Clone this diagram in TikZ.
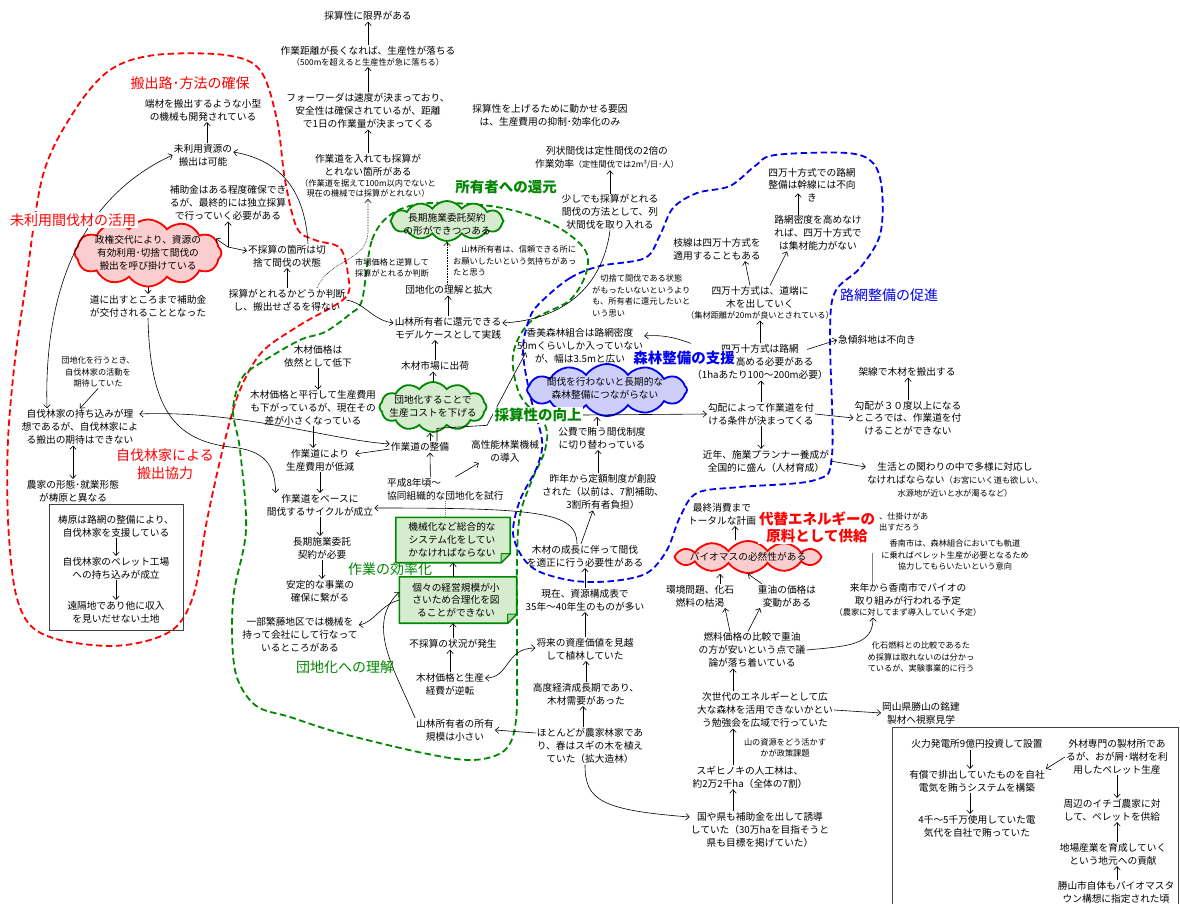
\documentclass[tikz,border=0pt]{standalone}
\usepackage{fontspec}
\setmainfont{Noto Sans CJK JP}
\usetikzlibrary{arrows.meta,shapes.symbols,calc}

\definecolor{ZoneRed}{RGB}{255,0,0}
\definecolor{ZoneGreen}{RGB}{0,135,0}
\definecolor{ZoneBlue}{RGB}{0,0,240}
\definecolor{PuffPink}{RGB}{250,206,206}
\definecolor{PuffGreen}{RGB}{214,236,206}
\definecolor{PuffBlue}{RGB}{206,206,250}
\definecolor{FoldGreen}{RGB}{170,215,160}

\newcommand{\smf}{\fontsize{8.2}{10.5}\selectfont}
\newcommand{\foldbox}[1]{%
  \filldraw[fill=PuffGreen,draw=ZoneGreen,line width=1.6pt,line join=round]
    (#1.north west) -- (#1.north east) -- ([yshift=9pt]#1.south east)
    -- ([xshift=-9pt]#1.south east) -- (#1.south west) -- cycle;
  \filldraw[fill=FoldGreen,draw=ZoneGreen,line width=1pt,line join=round]
    ([yshift=9pt]#1.south east) -- ([xshift=-9pt]#1.south east)
    -- ([xshift=-9pt,yshift=9pt]#1.south east) -- cycle;}

\tikzset{
  txt/.style={align=center,inner sep=1pt,font=\fontsize{9.7}{12.8}\selectfont},
  sml/.style={align=center,inner sep=1pt,font=\fontsize{8.2}{11.5}\selectfont},
  lbl/.style={align=center,inner sep=1.5pt,font=\fontsize{14}{18}\selectfont},
  lblb/.style={align=center,inner sep=1.5pt,font=\fontsize{14.5}{17}\selectfont\bfseries},
  con/.style={->,line width=.6pt},
  zone/.style={line width=1.8pt,dash pattern=on 6.5pt off 3.5pt},
  puff/.style={cloud,cloud puffs=12,cloud puff arc=110,cloud ignores aspect,line width=1.8pt,inner sep=0pt},
  slot/.style={rectangle,inner sep=0pt},
  boxline/.style={draw=black!75,line width=.8pt},
  >={Straight Barb[length=3.5pt,width=6.5pt]}
}

\begin{document}
\begin{tikzpicture}[x=1pt,y=-1pt]
\useasboundingbox[fill=white] (0,0) rectangle (1180,904);

% zones
\draw[zone,ZoneRed] plot[smooth cycle,tension=.55] coordinates {(285,180) (297,228) (315,240) (340,248) (348,275) (345,298) (300,325) (262,352) (240,390) (225,440) (207,520) (195,590) (178,625) (150,640) (110,646) (60,640) (30,625) (15,590) (8,520) (8,440) (15,360) (25,290) (43,175) (75,110) (110,70) (155,55) (225,55) (260,70) (277,120)};
\draw[zone,ZoneGreen] plot[smooth cycle,tension=.55] coordinates {(362,300) (372,240) (393,213) (430,203) (497,207) (550,223) (583,247) (587,270) (570,300) (530,322) (513,355) (520,395) (545,425) (545,450) (532,480) (520,515) (517,560) (517,650) (516,720) (505,750) (473,760) (423,753) (340,733) (290,717) (255,705) (235,670) (233,600) (246,530) (240,450) (233,410) (242,378) (262,362) (300,340) (325,332) (350,314)};
\draw[zone,ZoneBlue] plot[smooth cycle,tension=.55] coordinates {(543,300) (570,278) (600,266) (645,258) (660,235) (673,208) (697,193) (730,186) (755,166) (775,155) (847,153) (873,163) (882,190) (880,235) (860,268) (835,292) (830,335) (832,455) (815,480) (740,487) (697,493) (680,517) (667,550) (647,573) (613,581) (575,581) (540,572) (523,558) (513,533) (520,500) (537,467) (542,440) (530,395) (523,350) (530,317)};

% top column
\node[txt] (gen) at (368,16) {採算性に限界がある};
\node[txt] (mgn) at (368,56) {作業距離が長くなれば、生産性が落ちる\\[-2pt]{\smf （500mを超えると生産性が急に落ちる）}};
\node[txt] (fwd) at (368,111) {フォーワーダは速度が決まっており、\\安全性は確保されているが、距離\\で1日の作業量が決まってくる};
\node[txt] (sag) at (368,176) {作業道を入れても採算が\\とれない箇所がある\\[-2pt]{\smf （作業道を据えて100m以内でないと}\\[-2pt]{\smf 現在の機械では採算がとれない）}};
\node[txt] (ymt) at (550,115) {採算性を上げるために動かせる要因\\は、生産費用の抑制･効率化のみ};
\node[txt] (rej) at (607,158) {列状間伐は定性間伐の2倍の\\作業効率{\smf （定性間伐では2m³/日･人）}};
\node[txt] (suk) at (610,212) {少しでも採算がとれる\\間伐の方法として、列\\状間伐を取り入れる};
\node[sml,anchor=west,align=left] (kir) at (591,296) {　切捨て間伐である状態\\がもったいないというより\\も、所有者に還元したいと\\いう思い};

% unused timber
\node[txt] (hat) at (203,110) {端材を搬出するような小型\\の機械も開発されている};
\node[txt] (mir) at (203,155) {未利用資源の\\搬出は可能};
\node[txt] (hoj) at (228,203) {補助金はある程度確保でき\\るが、最終的には独立採算\\で行っていく必要がある};
\node[puff,draw=ZoneRed,fill=PuffPink,minimum width=147pt,minimum height=67pt] (seiC) at (148,253) {};
\node[txt] (sei) at (148,253) {政権交代により、資源の\\有効利用･切捨て間伐の\\搬出を呼び掛けている};
\node[txt] (fus) at (287,256) {不採算の箇所は切\\捨て間伐の状態};
\node[txt] (hand) at (287,300) {採算がとれるかどうか判断\\し、搬出せざるを得ない};
\node[sml] (mkb) at (392,268) {市場価格と逆算して\\採算がとれるか判断};
\node[txt] (mic) at (148,306) {道に出すところまで補助金\\が交付されることとなった};
\node[sml] (dan) at (98,372) {団地化を行うとき、\\自伐林家の活動を\\期待していた};
\node[txt] (jih) at (80,427) {自伐林家の持ち込みが理\\想であるが、自伐林家によ\\る搬出の期待はできない};
\node[txt] (nok) at (73,491) {農家の形態･就業形態\\が梼原と異なる};
\node[boxline,minimum width=134pt,minimum height=126pt] (ybox) at (116,567) {};
\node[txt] (yus1) at (116,526) {梼原は路網の整備により、\\自伐林家を支援している};
\node[txt] (jip) at (116,568) {自伐林家のペレット工場\\への持ち込みが成立};
\node[txt] (enk) at (116,612) {遠隔地であり他に収入\\を見いだせない土地};

% working column
\node[txt] (mkp) at (318,356) {木材価格は\\依然として低下};
\node[txt] (mkh) at (313,408) {木材価格と平行して生産費用\\も下がっているが、現在その\\差が小さくなっている};
\node[txt] (sgy) at (320,460) {作業道により\\生産費用が低減};
\node[txt] (bas) at (320,505) {作業道をベースに\\間伐するサイクルが成立};
\node[txt] (cho) at (322,548) {長期施業委託\\契約が必要};
\node[txt] (ant) at (320,591) {安定的な事業の\\確保に繋がる};
\node[txt] (ich) at (300,635) {一部繁藤地区では機械を\\持って会社にして行なって\\いるところがある};

% owners
\node[puff,draw=ZoneGreen,fill=PuffGreen,minimum width=113pt,minimum height=40pt] (choC) at (447,221) {};
\node[txt] (chok) at (447,224) {長期施業委託契約\\の形ができつつある};
\node[sml,anchor=west,align=left] (yam) at (452,261) {　山林所有者は、信頼できる所に\\お願いしたいという気持ちがあっ\\たと思う};
\node[txt] (dri) at (449,290) {団地化の理解と拡大};
\node[txt] (sre) at (448,328) {山林所有者に還元できる\\モデルケースとして実践};
\node[txt] (mks) at (435,366) {木材市場に出荷};
\node[puff,draw=ZoneGreen,fill=PuffGreen,minimum width=107pt,minimum height=50pt] (danC) at (433,407) {};
\node[txt] (dank) at (433,406) {団地化することで\\生産コストを下げる};
\node[txt] (sgs) at (420,447) {作業道の整備};
\node[txt] (kos) at (505,451) {高性能林業機械\\の導入};
\node[txt,anchor=west,align=left] (hei) at (386,489) {平成8年頃〜\\協同組織的な団地化を試行};
\node[slot,minimum width=114pt,minimum height=45pt] (kik) at (453,540) {};
\foldbox{kik}
\node[txt] (kikt) at (452,540) {機械化など総合的な\\システム化をしてい\\かなければならない};
\node[slot,minimum width=117pt,minimum height=46pt] (koko) at (458,600) {};
\foldbox{koko}
\node[txt] (kokot) at (456,600) {個々の経営規模が小\\さいため合理化を図\\ることができない};
\node[txt] (fjo) at (453,644) {不採算の状況が発生};
\node[txt] (mkt) at (450,684) {木材価格と生産\\経費が逆転};
\node[txt] (sks) at (455,730) {山林所有者の所有\\規模は小さい};

% forest support
\node[txt] (kam) at (580,346) {香美森林組合は路網密度\\50mくらいしか入っていない\\が、幅は3.5mと広い};
\node[puff,draw=ZoneBlue,fill=PuffBlue,minimum width=160pt,minimum height=52pt] (kanC) at (607,390) {};
\node[txt] (kank) at (605,388) {間伐を行わないと長期的な\\森林整備につながらない};
\node[txt] (kohi) at (602,438) {公費で賄う間伐制度\\に切り替わっている};
\node[txt] (sak) at (603,492) {昨年から定額制度が創設\\された（以前は、7割補助、\\3割所有者負担）};
\node[txt] (mse) at (585,556) {木材の成長に伴って間伐\\を適正に行う必要性がある};
\node[txt] (gen2) at (585,600) {現在、資源構成表で\\35年〜40年生のものが多い};
\node[txt] (sho) at (585,649) {将来の資産価値を見越\\して植林していた};
\node[txt] (kod) at (586,694) {高度経済成長期であり、\\木材需要があった};
\node[txt] (hot) at (590,746) {ほとんどが農家林家であ\\り、春はスギの木を植え\\ていた（拡大造林）};

% road network
\node[txt] (shk) at (812,185) {四万十方式での路網\\整備は幹線には不向\\き};
\node[txt] (rmd) at (818,233) {路網密度を高めなけ\\れば、四万十方式で\\は集材能力がない};
\node[txt] (eda) at (717,249) {枝線は四万十方式を\\適用することもある};
\node[txt] (shd) at (760,303) {四万十方式は、道端に\\木を出していく\\[-2pt]{\smf （集材距離が20mが良いとされている）}};
\node[txt] (shr) at (760,362) {四万十方式は路網\\密度を高める必要がある\\（1haあたり100〜200m必要）};
\node[txt] (kob) at (761,414) {勾配によって作業道を付\\ける条件が決まってくる};
\node[txt] (kin) at (766,461) {近年、施業プランナー養成が\\全国的に盛ん（人材育成）};
\node[txt] (kyu) at (877,340) {急傾斜地は不向き};
\node[txt] (kas) at (907,372) {架線で木材を搬出する};
\node[txt] (k30) at (908,418) {勾配が３０度以上になる\\ところでは、作業道を付\\けることができない};
\node[txt] (sei2) at (955,480) {生活との関わりの中で多様に対応し\\なければならない{\smf （お宮にいく道も欲しい、}\\{\smf 水源地が近いと水が濁るなど）}};

% energy
\node[txt] (sai) at (722,514) {最終消費まで\\トータルな計画};
\node[sml,anchor=west,align=left] (shi) at (878,522) {、仕掛けがあ\\出すだろう};
\node[puff,draw=ZoneRed,fill=PuffPink,minimum width=147pt,minimum height=32pt] (bioC) at (748,557) {};
\node[txt] (bio) at (748,557) {バイオマスの必然性がある};
\node[txt] (kan) at (700,596) {環境問題、化石\\燃料の枯渇};
\node[txt] (juy) at (787,596) {重油の価格は\\変動がある};
\node[txt] (nen) at (752,650) {燃料価格の比較で重油\\の方が安いという点で議\\論が落ち着いている};
\node[sml] (kon) at (955,555) {香南市は、森林組合においても軌道\\に乗ればペレット生産が必要となるため\\協力してもらいたいという意向};
\node[txt] (rai) at (908,600) {来年から香南市でバイオの\\取り組みが行われる予定\\[-2pt]{\smf （農家に対してまず導入していく予定）}};
\node[sml] (kas2) at (921,657) {化石燃料との比較であるた\\め採算は取れないのは分かっ\\ているが、実験事業的に行う};
\node[txt] (jis) at (765,710) {次世代のエネルギーとして広\\大な森林を活用できないかとい\\う勉強会を広域で行っていた};
\node[txt] (oka) at (921,713) {岡山県勝山の銘建\\製材へ視察見学};
\node[sml] (yms) at (785,748) {山の資源をどう活かす\\かが政策課題};
\node[txt] (sug) at (750,777) {スギヒノキの人工林は、\\約2万2千ha（全体の7割）};
\node[txt] (kun) at (760,830) {国や県も補助金を出して誘導\\していた（30万haを目指そうと\\県も目標を掲げていた）};

% visit box
\node[boxline,minimum width=286pt,minimum height=190pt] (kbox) at (1035,822) {};
\node[txt] (kar) at (977,744) {火力発電所9億円投資して設置};
\node[txt] (yus) at (977,781) {有償で排出していたものを自社\\電気を賄うシステムを構築};
\node[txt] (yon) at (977,826) {4千〜5千万使用していた電\\気代を自社で賄っていた};
\node[txt] (gaz) at (1117,757) {外材専門の製材所であ\\るが、おが屑･端材を利\\用したペレット生産};
\node[txt] (shu) at (1112,810) {周辺のイチゴ農家に対\\して、ペレットを供給};
\node[txt] (jib) at (1113,854) {地場産業を育成していく\\という地元への貢献};
\node[txt] (kat) at (1116,892) {勝山市自体もバイオマスタ\\ウン構想に指定された頃};

% connectors
\draw[con] (mgn.north) -- (mgn.north |- gen.south);
\draw[con] (fwd.north) -- (fwd.north |- mgn.south);
\draw[con] (sag.north) -- (sag.north |- fwd.south);
\draw[con,densely dotted] ([xshift=30pt]hand.north) .. controls (330,258) and (368,262) .. ([yshift=-32pt]sag.south) -- (sag.south);

\draw[con] ([xshift=4pt]mir.north) -- ([xshift=4pt]mir.north |- hat.south);
\draw[con,<->] ([xshift=-33pt]jih.north) .. controls (44,300) and (75,200) .. (mir.west);
\coordinate (fork) at (228,247);
\draw[con] (fork) -- (fork |- hoj.south);
\draw[con] (fork) -- (seiC.12);
\draw[con] (fork) -- ([yshift=5pt]fus.west);
\draw[con] (seiC.south) -- (seiC.south |- mic.north);
\draw[con] ([xshift=21pt]fus.north) .. controls (305,190) and (280,160) .. ([yshift=3pt]mir.east);
\draw[con] (hand.north) -- (hand.north |- fus.south);
\draw[con] (hand.east) .. controls (365,303) and (372,320) .. ([yshift=5pt]sre.west);
\draw[con] (mic.south) .. controls (150,410) and (175,440) .. (230,447) .. controls (265,450) and (275,465) .. ([xshift=10pt]bas.north west);
\draw[con] (dan.south) -- (jih.north);
\draw[con,<->] ([xshift=-7pt]jih.south) -- ([xshift=-7pt]jih.south |- nok.north);
\draw[con,<->] ([yshift=13pt]jih.east) .. controls (240,410) and (330,440) .. ([yshift=3pt]sgs.west);
\draw[con] ([yshift=-2pt]sgs.west) -- ([yshift=6pt]sgy.east);
\draw[con] (yus1.south) -- (yus1.south |- jip.north);
\draw[con] (jip.south) -- (jip.south |- enk.north);

\draw[con] (mkp.south) -- (mkp.south |- mkh.north);
\draw[con] (mkh.south) -- (mkh.south |- sgy.north);
\draw[con] (sgy.south) -- (sgy.south |- bas.north);
\draw[con] (bas.south) -- (bas.south |- cho.north);
\draw[con] (cho.south) -- (cho.south |- ant.north);

\draw[con,densely dotted] ([xshift=-2pt]dri.north) -- ([xshift=-2pt]dri.north |- choC.south);
\draw[con] (sre.north) -- (sre.north |- dri.south);
\draw[con] (mks.north) -- (mks.north |- sre.south);
\draw[con] (danC.north) -- (danC.north |- mks.south);
\draw[con] ([xshift=10pt]sgs.north) -- ([xshift=10pt]sgs.north |- danC.south);
\draw[con] ([xshift=17pt]sgs.north) -- ++(0pt,13pt) -- ++(50pt,3pt) -- ([xshift=10pt,yshift=12pt]kam.south west);
\draw[con] (suk.south) .. controls (602,290) and (560,320) .. ([yshift=5pt]sre.east);
\draw[con] (suk.north) -- (suk.north |- rej.south);
\draw[con] ([xshift=-15pt]hei.north) -- ([xshift=10pt]sgs.south);
\draw[con] ([xshift=10pt]hei.north) -- ([xshift=9pt]kos.south west);
\draw[densely dotted,gray,line width=.8pt] (hei.south) -- (hei.south |- kik.north);
\draw[con] ([xshift=-8pt]mse.north) .. controls (577,512) and (540,508) .. ([yshift=-3pt]bas.east);
\draw[con] ([xshift=-5pt]koko.north) -- ([xshift=-5pt]koko.north |- kik.south);
\draw[con] (fjo.north) -- (fjo.north |- koko.south);
\draw[con] (mkt.north) -- (mkt.north |- fjo.south);
\draw[con,<->] ([yshift=6pt]mkt.east) .. controls (510,678) and (505,648) .. ([yshift=1pt]sho.west);
\draw[con] (koko.west) .. controls (380,605) and (375,622) .. ([yshift=10pt]ich.east);
\draw[con] (sks.north west) .. controls (395,670) and (365,625) .. ([yshift=8pt]koko.west);
\draw[con] ([yshift=13pt]hot.west) -- (sks.east);

\draw[con] ([xshift=-5pt]kohi.north) -- ([xshift=-5pt]kohi.north |- kanC.south);
\draw[con] ([xshift=-5pt]sak.north) -- ([xshift=-5pt]sak.north |- kohi.south);
\draw[con] ([xshift=-4pt]mse.north) -- ([xshift=-10pt]sak.south);
\draw[con] (gen2.north) -- (gen2.north |- mse.south);
\draw[con] (sho.north) -- (sho.north |- gen2.south);
\draw[con] (kod.north) -- (kod.north |- sho.south);
\draw[con] ([xshift=-7pt]hot.north) -- ([xshift=-7pt]hot.north |- kod.south);
\draw[con] ([xshift=-5pt]hot.south) .. controls (585,800) and (600,810) .. ([yshift=13pt]kun.west);

\draw[con] (shr.north) -- (shr.north |- shd.south);
\draw[con] (kob.north) -- (kob.north |- shr.south);
\draw[con] (shr.north west) .. controls (682,340) and (665,334) .. ([yshift=10pt]kam.east);
\draw[con] ([xshift=47pt,yshift=-6pt]shr.north) -- (kyu.west);
\draw[con] ([xshift=-10pt]shd.north) -- ([xshift=28pt]eda.south);
\draw[con] ([xshift=10pt]shd.north) -- ([xshift=-31pt]rmd.south);
\draw[con] ([xshift=-20pt]rmd.north) -- ([xshift=-14pt,yshift=10pt]shk.south);
\draw[con] (kob.east) -- (k30.west);
\draw[con] (k30.north) -- (k30.north |- kas.south);
\draw[con] (kob.south) -- (kob.south |- kin.north);
\draw[con] (kin.east) -- ([yshift=13pt]sei2.west);

\draw[con] ([xshift=-13pt]bioC.north) -- ([xshift=-13pt]bioC.north |- sai.south);
\draw[con] ([xshift=20pt]kan.north) -- ([xshift=20pt]kan.north |- bioC.south);
\draw[con] ([xshift=-25pt]juy.north) -- (bioC.south);
\draw[con] ([xshift=-22pt]nen.north) -- ([xshift=25pt]kan.south);
\draw[con] ([xshift=-4pt]nen.north) -- ([xshift=-27pt]juy.south);
\draw[con] (nen.east) .. controls (850,646) and (873,645) .. ([xshift=-35pt]rai.south);
\draw[gray,line width=.6pt] ([xshift=-36pt]rai.north) -- ++(0pt,30pt);
\draw[con] ([xshift=-32pt]jis.north) -- ([xshift=-32pt]jis.north |- nen.south);
\draw[con] (jis.east) -- (oka.west);
\draw[con] ([xshift=-17pt]sug.north) -- ([xshift=-17pt]sug.north |- jis.south);
\draw[con] ([xshift=-27pt]kun.north) -- ([xshift=-27pt]kun.north |- sug.south);

\draw[con] ([xshift=-7pt]kar.south) -- ([xshift=-7pt]kar.south |- yus.north);
\draw[con] ([xshift=-7pt]yus.south) -- ([xshift=-7pt]yus.south |- yon.north);
\draw[con] (gaz.west) -- (yus.north east);
\draw[con] (gaz.south) -- (gaz.south |- shu.north);
\draw[con] ([xshift=4pt]jib.north) -- ([xshift=4pt]jib.north |- shu.south);
\draw[con] ([xshift=1pt]kat.north) -- ([xshift=1pt]kat.north |- jib.south);

% zone labels
\node[lbl,text=ZoneRed] (L1) at (190,83) {搬出路･方法の確保};
\node[lbl,text=ZoneRed,fill=white] (L2) at (73,220) {未利用間伐材の活用};
\node[lbl,text=ZoneRed] (L3) at (165,464) {自伐林家による\\搬出協力};
\node[lblb,text=ZoneGreen] (L4) at (506,187) {所有者への還元};
\node[lblb,text=ZoneGreen,fill=white] (L5) at (538,415) {採算性の向上};
\node[lbl,text=ZoneGreen] (L6) at (390,569) {作業の効率化};
\node[lbl,text=ZoneGreen] (L7) at (345,667) {団地化への理解};
\node[lblb,text=ZoneBlue,fill=white] (L8) at (684,358) {森林整備の支援};
\node[lbl,text=ZoneBlue] (L9) at (889,295) {路網整備の促進};
\node[lblb,text=ZoneRed,fill=white] (L10) at (817,527) {代替エネルギーの\\原料として供給};
\draw[con] (L5.east) -- (kob.west);

\end{tikzpicture}
\end{document}
